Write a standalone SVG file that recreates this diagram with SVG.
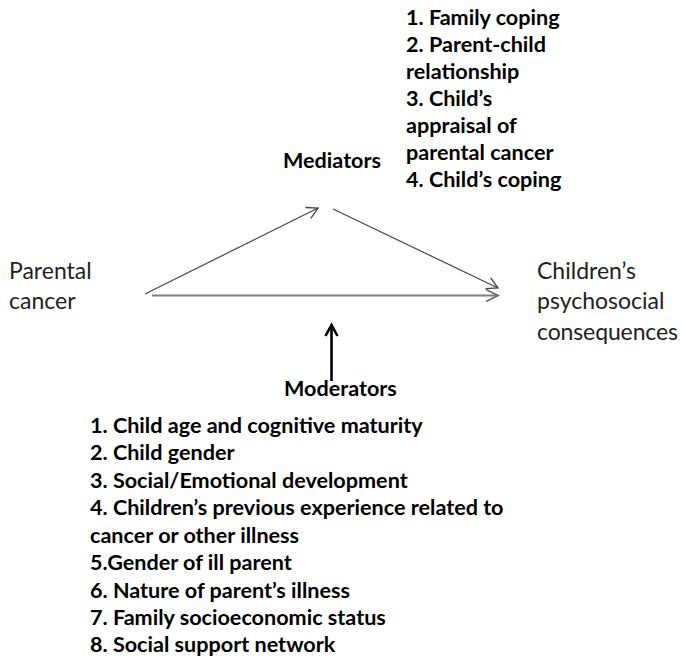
<svg xmlns="http://www.w3.org/2000/svg" width="682" height="659" viewBox="0 0 682 659">
<defs>
<style>
text{font-family:"Lato","Liberation Sans",sans-serif;fill:#000}
.reg{font-size:23px;fill:#222}
.b{font-size:21.6px;font-weight:bold}
.thin{stroke:#444;stroke-width:1.2;fill:none}
.thick{stroke:#808080;stroke-width:2.2;fill:none}
.mod{stroke:#000;stroke-width:2.6;fill:none}
</style>
<marker id="open" markerWidth="14" markerHeight="14" refX="12" refY="7" orient="auto" markerUnits="userSpaceOnUse">
<path d="M1,1 L12,7 L1,13" fill="none" stroke="#444" stroke-width="1.3"/>
</marker>
<marker id="openg" markerWidth="16" markerHeight="16" refX="13" refY="8" orient="auto" markerUnits="userSpaceOnUse">
<path d="M1,2 L13,8 L1,14" fill="none" stroke="#707070" stroke-width="1.8"/>
</marker>
<marker id="blk" markerWidth="16" markerHeight="16" refX="13" refY="8" orient="auto" markerUnits="userSpaceOnUse">
<path d="M2,2 L13,8 L2,14" fill="none" stroke="#000" stroke-width="2.6"/>
</marker>
</defs>
<rect width="682" height="659" fill="#fff"/>
<g id="connectors">
<line class="thin" x1="145" y1="294" x2="318" y2="208" marker-end="url(#open)"/>
<line class="thin" x1="333" y1="209" x2="498" y2="288" marker-end="url(#open)"/>
<line class="thick" x1="152" y1="295.5" x2="498" y2="295.5" marker-end="url(#openg)"/>
<line class="mod" x1="331.5" y1="381" x2="331.5" y2="325" marker-end="url(#blk)"/>
</g>
<g id="parental-cancer">
<text class="reg" x="9" y="279">Parental</text>
<text class="reg" x="9" y="309">cancer</text>
</g>
<g id="childrens-consequences">
<text class="reg" x="537" y="279">Children’s</text>
<text class="reg" x="537" y="309">psychosocial</text>
<text class="reg" x="537" y="340" textLength="141">consequences</text>
</g>
<g id="mediators">
<text class="b" x="283" y="168">Mediators</text>
</g>
<g id="mediator-list">
<text class="b" x="406" y="25">1. Family coping</text>
<text class="b" x="406" y="52">2. Parent-child</text>
<text class="b" x="406" y="79">relationship</text>
<text class="b" x="406" y="106">3. Child’s</text>
<text class="b" x="406" y="133">appraisal of</text>
<text class="b" x="406" y="160">parental cancer</text>
<text class="b" x="406" y="187">4. Child’s coping</text>
</g>
<g id="moderators">
<text class="b" x="284" y="396">Moderators</text>
</g>
<g id="moderator-list">
<text class="b" x="90" y="433">1. Child age and cognitive maturity</text>
<text class="b" x="90" y="460">2. Child gender</text>
<text class="b" x="90" y="488">3. Social/Emotional development</text>
<text class="b" x="90" y="515">4. Children’s previous experience related to</text>
<text class="b" x="90" y="543">cancer or other illness</text>
<text class="b" x="90" y="570">5.Gender of ill parent</text>
<text class="b" x="90" y="598">6. Nature of parent’s illness</text>
<text class="b" x="90" y="625">7. Family socioeconomic status</text>
<text class="b" x="90" y="652">8. Social support network</text>
</g>
</svg>
